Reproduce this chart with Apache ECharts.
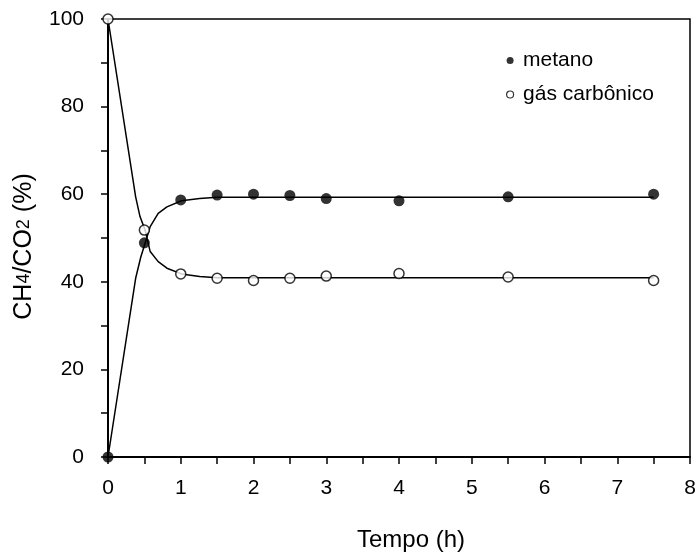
<!DOCTYPE html>
<html>
<head>
<meta charset="utf-8">
<script src="https://cdn.jsdelivr.net/npm/echarts@6/dist/echarts.min.js"></script>
<style>html,body{margin:0;padding:0;background:#fff}#c{width:699px;height:552px}</style>
</head>
<body>
<div id="c"></div>
<script>
// Measured points
const metanoPts = [[0,0],[0.5,48.9],[1,58.7],[1.5,59.8],[2,60.0],[2.5,59.7],[3,59.0],[4,58.5],[5.5,59.4],[7.5,60.0]];
const co2Pts = [[0,100],[0.5,51.8],[1,41.8],[1.5,40.8],[2,40.3],[2.5,40.8],[3,41.3],[4,41.9],[5.5,41.1],[7.5,40.3]];
// Fitted curves
const metanoFit = [[0,0],[0.38,40.8],[0.45,45.6],[0.51,48.8],[0.58,52.6],[0.69,55.6],[0.81,57.1],[1.01,58.5],[1.26,59.0],[1.5,59.3],[7.5,59.3]];
const co2Fit = [[0,100],[0.38,59.4],[0.44,54.9],[0.51,51.8],[0.58,46.9],[0.69,44.6],[0.81,43.1],[1.01,41.8],[1.26,41.2],[1.5,40.9],[7.5,40.9]];
const seriesNames = ['metano','gás carbônico'];
const xTitle = 'Tempo (h)';

const FONT = 'Liberation Sans, Arial, sans-serif';
const chart = echarts.init(document.getElementById('c'), null, {renderer:'canvas'});
chart.setOption({
  animation:false,
  backgroundColor:'#fff',
  grid:{left:108,right:9,top:19,bottom:95,containLabel:false,outerBoundsMode:'none',show:true,borderColor:'#000',borderWidth:1.5,backgroundColor:'transparent'},
  legend:{
    orient:'vertical', left:501, top:45, itemGap:13, itemWidth:16, itemHeight:7,
    textStyle:{fontFamily:FONT,fontSize:21,color:'#000'},
    data:[
      {name:seriesNames[0], icon:'circle', itemStyle:{color:'#000',borderWidth:0}},
      {name:seriesNames[1], icon:'circle', itemStyle:{color:'#fff',borderColor:'#000',borderWidth:1.2}}
    ]
  },
  xAxis:{
    type:'value', min:0, max:8, interval:0.5,
    name:xTitle, nameLocation:'middle', nameGap:71,
    nameTextStyle:{fontFamily:FONT,fontSize:24,color:'#000',padding:[0,0,0,24]},
    axisLine:{lineStyle:{color:'#000',width:2}},
    axisTick:{inside:false,length:7,lineStyle:{color:'#000',width:1.5}},
    axisLabel:{margin:21,fontFamily:FONT,fontSize:21,color:'#000',
      formatter:v=> (Math.abs(v-Math.round(v))<1e-9)? String(Math.round(v)) : ''},
    splitLine:{show:false}
  },
  yAxis:{
    type:'value', min:0, max:100, interval:10,
    name:'{a|CH}{s|4}{a|/CO}{s|2}{a| (%)}', nameLocation:'middle', nameGap:71, nameRotate:90,
    nameTextStyle:{padding:[0,17,0,0],rich:{a:{fontFamily:FONT,fontSize:25,color:'#000'},s:{fontFamily:FONT,fontSize:18,color:'#000'}}},
    axisLine:{lineStyle:{color:'#000',width:2}},
    axisTick:{inside:false,length:7,lineStyle:{color:'#000',width:1.5}},
    axisLabel:{margin:24,fontFamily:FONT,fontSize:21,color:'#000',
      formatter:v=> (v%20===0)? String(v) : ''},
    splitLine:{show:false}
  },
  series:[
    {type:'line',data:metanoFit,showSymbol:false,symbol:'none',lineStyle:{color:'#000',width:1.5},z:2,silent:true},
    {type:'line',data:co2Fit,showSymbol:false,symbol:'none',lineStyle:{color:'#000',width:1.5},z:2,silent:true},
    {name:seriesNames[0],type:'scatter',data:metanoPts,symbol:'circle',symbolSize:11,itemStyle:{color:'#000'},z:3},
    {name:seriesNames[1],type:'scatter',data:co2Pts,symbol:'circle',symbolSize:10,itemStyle:{color:'#fff',borderColor:'#000',borderWidth:1.5},z:3}
  ]
});
</script>
</body>
</html>
